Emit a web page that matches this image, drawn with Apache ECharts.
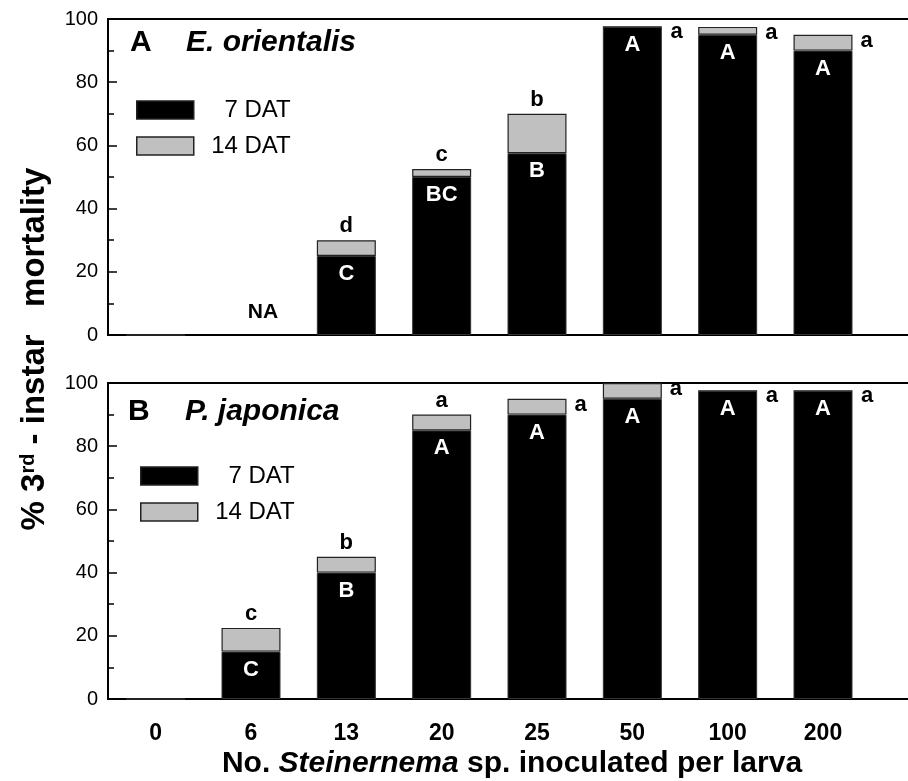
<!DOCTYPE html>
<html>
<head>
<meta charset="utf-8">
<script src="https://cdn.jsdelivr.net/npm/echarts@6/dist/echarts.min.js"></script>
<style>
html, body { margin: 0; padding: 0; background: #fff; }
#chart { width: 908px; height: 781px; }
</style>
</head>
<body>
<div id="chart"></div>
<script>
// inoculation doses (x categories)
const doses = ['0', '6', '13', '20', '25', '50', '100', '200']

// A: E. orientalis, cumulative % mortality
const orient7 = [0, null, 25, 50, 57.5, 97.5, 95, 90]
const orient14 = [0, null, 30, 52.5, 70, 97.5, 97.5, 95]
const orientIn = ['', '', 'C', 'BC', 'B', 'A', 'A', 'A']
const orientTop = ['', '', 'd', 'c', 'b', 'a', 'a', 'a']

// B: P. japonica
const japon7 = [0, 15, 40, 85, 90, 95, 97.5, 97.5]
const japon14 = [0, 22.5, 45, 90, 95, 100, 97.5, 97.5]
const japonIn = ['', 'C', 'B', 'A', 'A', 'A', 'A', 'A']
const japonTop = ['', 'c', 'b', 'a', 'a', 'a', 'a', 'a']

const FONT = '"Liberation Sans", Arial, Helvetica, sans-serif'
const BAR_W = 59

const chart = echarts.init(document.getElementById('chart'))

function blackData (v7, inside) {
    return v7.map((v, i) => ({
        value: v,
        label: { show: !!inside[i], formatter: inside[i] }
    }))
}

// 14 DAT is stacked as the increase over 7 DAT
function grayData (v7, v14, top) {
    return v14.map((v, i) => {
        if (v == null) return { value: null }
        const onRight = v >= 92 // no room above tall bars
        return {
            value: +(v - v7[i]).toFixed(2),
            label: onRight
                ? { show: !!top[i], formatter: top[i], position: ['100%', 0], offset: [8, -5] }
                : { show: !!top[i], formatter: top[i], position: 'top', distance: 3 }
        }
    })
}

function makeSeries (idx, v7, v14, inside, top) {
    const black = {
        name: '7 DAT',
        type: 'bar',
        stack: 'p' + idx,
        xAxisIndex: idx,
        yAxisIndex: idx * 2,
        barWidth: BAR_W,
        itemStyle: { color: '#000', borderColor: '#333', borderWidth: 1 },
        label: {
            position: 'insideTop', distance: 7,
            color: '#fff', fontSize: 22, fontWeight: 'bold', fontFamily: FONT
        },
        data: blackData(v7, inside)
    }
    const na = v7.map((v, i) => v == null ? { coord: [i, 0] } : null).filter(Boolean)
    if (na.length) {
        black.markPoint = {
            symbol: 'circle',
            symbolSize: 0,
            data: na,
            label: {
                show: true, formatter: 'NA', offset: [12, -23],
                color: '#000', fontSize: 21, fontWeight: 'bold', fontFamily: FONT
            }
        }
    }
    const gray = {
        name: '14 DAT',
        type: 'bar',
        stack: 'p' + idx,
        xAxisIndex: idx,
        yAxisIndex: idx * 2,
        barWidth: BAR_W,
        itemStyle: { color: '#c0c0c0', borderColor: '#222', borderWidth: 1.2 },
        label: { color: '#000', fontSize: 22, fontWeight: 'bold', fontFamily: FONT },
        data: grayData(v7, v14, top)
    }
    return [black, gray]
}

function xAxis (idx, showLabel) {
    return {
        type: 'category',
        gridIndex: idx,
        data: doses.concat(['']), // spare slot runs the axis past the right edge
        axisLine: { lineStyle: { color: '#000', width: 2 } },
        axisTick: { alignWithLabel: true, interval: 0, length: 8, lineStyle: { color: '#000', width: 1.5 } },
        axisLabel: {
            show: showLabel, interval: 0, margin: 23,
            color: '#000', fontSize: 23, fontWeight: 'bold', fontFamily: FONT
        },
        splitLine: { show: false }
    }
}

// main axis: labels + long ticks every 20
function yAxis (idx) {
    return {
        type: 'value',
        gridIndex: idx,
        min: 0,
        max: 100,
        interval: 20,
        axisLine: { show: true, lineStyle: { color: '#000', width: 2 } },
        axisTick: { show: true, inside: true, length: 9, lineStyle: { color: '#000', width: 1.5 } },
        axisLabel: { color: '#000', fontSize: 20, margin: 10, fontFamily: FONT },
        splitLine: { show: false }
    }
}

// overlay axis: short inside ticks every 10
function yMinor (idx) {
    return {
        type: 'value',
        gridIndex: idx,
        position: 'left',
        offset: 0,
        min: 0,
        max: 100,
        interval: 10,
        axisLine: { show: false },
        axisTick: { show: true, inside: true, length: 6, lineStyle: { color: '#000', width: 1.5 } },
        axisLabel: { show: false },
        splitLine: { show: false }
    }
}

function legend (left, top) {
    return {
        data: ['7 DAT', '14 DAT'],
        orient: 'vertical',
        left: left,
        top: top,
        padding: 0,
        icon: 'rect',
        itemWidth: 57,
        itemHeight: 18,
        itemGap: 12,
        selectedMode: false,
        itemStyle: { borderColor: '#222', borderWidth: 1.5 },
        formatter: name => '{t|' + name + '}',
        textStyle: {
            rich: { t: { width: 92, align: 'right', fontSize: 24, color: '#000', fontFamily: FONT } }
        }
    }
}

function panelTitle (letter, species, left, top, gap) {
    return {
        text: '{l|' + letter + '}{s|' + species + '}',
        left: left,
        top: top,
        padding: 0,
        textStyle: {
            rich: {
                l: { width: gap, fontSize: 30, fontWeight: 'bold', color: '#000', fontFamily: FONT },
                s: { fontSize: 30, fontWeight: 'bold', fontStyle: 'italic', color: '#000', fontFamily: FONT }
            }
        }
    }
}

function grid (top) {
    return {
        left: 108, top: top, height: 316, width: 858,
        outerBoundsMode: 'none',
        containLabel: false,
        show: true, borderColor: '#000', borderWidth: 2
    }
}

const option = {
    animation: false,
    backgroundColor: '#fff',
    title: [
        panelTitle('A', 'E. orientalis', 130, 28, 56),
        panelTitle('B', 'P. japonica', 128, 397, 57)
    ],
    legend: [legend(136, 98), legend(140, 464)],
    grid: [grid(19), grid(383)],
    xAxis: [xAxis(0, false), xAxis(1, true)],
    yAxis: [yAxis(0), yMinor(0), yAxis(1), yMinor(1)],
    series: [].concat(
        makeSeries(0, orient7, orient14, orientIn, orientTop),
        makeSeries(1, japon7, japon14, japonIn, japonTop)
    ),
    graphic: [
        {
            type: 'text',
            x: 35,
            y: 349,
            rotation: Math.PI / 2,
            style: {
                text: '{m|% 3}{s|rd}{m| - instar   mortality}',
                align: 'center',
                verticalAlign: 'middle',
                textAlign: 'center',
                textVerticalAlign: 'middle',
                rich: {
                    m: { fontSize: 33, fontWeight: 'bold', fill: '#000', fontFamily: FONT },
                    s: { fontSize: 20, fontWeight: 'bold', fill: '#000', fontFamily: FONT, verticalAlign: 'top' }
                }
            }
        },
        {
            type: 'text',
            x: 512,
            y: 764,
            style: {
                text: '{a|No. }{b|Steinernema}{a| sp. inoculated per larva}',
                align: 'center',
                verticalAlign: 'middle',
                textAlign: 'center',
                textVerticalAlign: 'middle',
                rich: {
                    a: { fontSize: 30, fontWeight: 'bold', fill: '#000', fontFamily: FONT },
                    b: { fontSize: 30, fontWeight: 'bold', fontStyle: 'italic', fill: '#000', fontFamily: FONT }
                }
            }
        }
    ]
}

chart.setOption(option)
</script>
</body>
</html>
